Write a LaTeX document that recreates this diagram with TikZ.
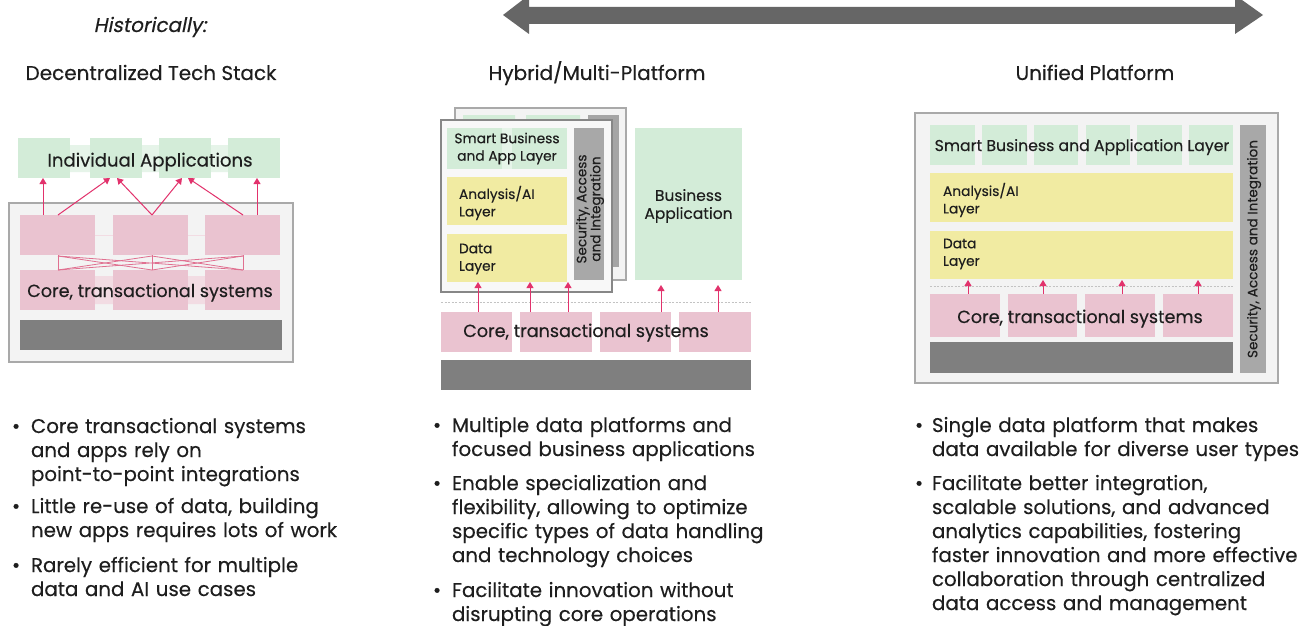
\documentclass[tikz,border=0pt]{standalone}
\usepackage{fontspec}
\setmainfont{Poppins}[FakeBold=0.3]
\newfontfamily\histfont{Poppins}[FakeSlant=0.2,FakeBold=0.3]
\usetikzlibrary{arrows.meta}
\definecolor{appgreen}{HTML}{D3ECD8}
\definecolor{appgreenl}{HTML}{E6F4E9}
\definecolor{corepink}{HTML}{EAC3D0}
\definecolor{corepinkl}{HTML}{F2DCE3}
\definecolor{layeryel}{HTML}{F1EBA2}
\definecolor{darkbar}{HTML}{7F7F7F}
\definecolor{secgray}{HTML}{A8A8A8}
\definecolor{panelbg}{HTML}{F3F3F3}
\definecolor{panelbd}{HTML}{A9A9A9}
\definecolor{arrred}{HTML}{E2326C}
\definecolor{linkred}{HTML}{E07090}
\definecolor{txt}{HTML}{1E1E1E}
\definecolor{bigarrow}{HTML}{666666}
\newcommand{\fs}[2]{\fontsize{#1}{#2}\selectfont}
\begin{document}
\begin{tikzpicture}[x=1pt,y=-1pt,
  blk/.style={inner sep=0,outer sep=0,draw=none,anchor=north west},
  panel/.style={fill=panelbg,draw=panelbd,line width=1.2},
  arr/.style={draw=arrred,line width=1,-{Triangle[width=7,length=6]}},
  link/.style={draw=linkred,line width=0.8},
  lbl/.style={text=txt,inner sep=0,outer sep=0},
  head/.style={lbl,anchor=base,font=\fs{20}{24}},
  corel/.style={lbl,anchor=base,font=\fs{17.6}{20}},
  small/.style={lbl,font=\fs{13.8}{17.5}},
  bul/.style={lbl,anchor=base west,font=\fs{19.8}{24}},
  btxt/.style={lbl,anchor=base west,font=\fs{19.8}{24},text width=400,align=left},
]
\useasboundingbox (0,0) rectangle (1304,626);
\fill[white] (0,0) rectangle (1304,626);

% top double arrow
\fill[bigarrow] (503,15) -- (529,-5) -- (529,7) -- (1235,7) -- (1235,-5) -- (1263,15)
  -- (1235,34) -- (1235,24) -- (529,24) -- (529,34) -- cycle;

% headings
\node[lbl,anchor=base,font=\fs{20}{24}\histfont] (hist) at (150,32) {Historically:};
\node[head] (h1) at (151,80) {Decentralized Tech Stack};
\node[head] (h2) at (597,80) {Hybrid/Multi-Platform};
\node[head] (h3) at (1095,80) {Unified Platform};

% ================= Panel 1
\draw[panel] (9,203) rectangle (293,362);
\fill[appgreenl] (70,145) rectangle (90,172) (142,145) rectangle (159,172) (211,145) rectangle (228,172);
\node[blk,fill=appgreen,minimum width=52,minimum height=40] (g1) at (18,138) {};
\node[blk,fill=appgreen,minimum width=52,minimum height=40] (g2) at (90,138) {};
\node[blk,fill=appgreen,minimum width=52,minimum height=40] (g3) at (159,138) {};
\node[blk,fill=appgreen,minimum width=52,minimum height=40] (g4) at (228,138) {};
\node[lbl,anchor=base,font=\fs{18.1}{22}] (indapp) at (150,166.5) {Individual Applications};

\node[blk,fill=corepink,minimum width=75,minimum height=40] (a1) at (20,215) {};
\node[blk,fill=corepink,minimum width=75,minimum height=40] (a2) at (113,215) {};
\node[blk,fill=corepink,minimum width=75,minimum height=40] (a3) at (205,215) {};
\draw[draw=corepinkl,line width=1] (a1.east) -- (a2.west) (a2.east) -- (a3.west);

\fill[corepinkl] (95,276) rectangle (113,304) (188,276) rectangle (205,304);
\node[blk,fill=corepink,minimum width=75,minimum height=40] (b1) at (20,270) {};
\node[blk,fill=corepink,minimum width=75,minimum height=40] (b2) at (113,270) {};
\node[blk,fill=corepink,minimum width=75,minimum height=40] (b3) at (205,270) {};
\node[corel] (core1) at (150,297) {Core, transactional systems};
\node[blk,fill=darkbar,minimum width=262,minimum height=30] (bar1) at (20,320) {};

% point-to-point links
\draw[link] (58,255) -- (58,270) (152,255) -- (152,270) (243,255) -- (243,270);
\draw[link] (58,256) -- (243,270) (58,270) -- (243,256);
\draw[link] (58,270) -- (152,256) (152,256) -- (243,270);
\draw[link] (58,256) -- (152,270) (152,270) -- (243,256);

% arrows up
\draw[arr] (43,0 |- a1.north) -- (43,0 |- g1.south);
\draw[arr] (58,0 |- a1.north) -- (110,0 |- g2.south);
\draw[arr] (152,0 |- a2.north) -- (117,0 |- g2.south);
\draw[arr] (152,0 |- a2.north) -- (182,0 |- g3.south);
\draw[arr] (243,0 |- a3.north) -- (188,0 |- g3.south);
\draw[arr] (257,0 |- a3.north) -- (257,0 |- g4.south);

% ================= Panel 2
% back frame
\draw[fill=panelbg,draw=panelbd,line width=1.2] (455,108) rectangle (626,280);
\fill[appgreen] (463,115) rectangle (515,125) (526,115) rectangle (580,125);
\fill[darkbar!70] (588,115) rectangle (619,267);
% front frame
\draw[fill=white!40!panelbg,draw=panelbd!80!black,line width=1.2] (441,120) rectangle (612,292);
\node[blk,fill=appgreen,minimum width=55,minimum height=41] (s1) at (447,128) {};
\node[blk,fill=appgreen,minimum width=55,minimum height=41] (s2) at (512,128) {};
\fill[appgreenl] (502,128) rectangle (512,169);
\node[small,align=center] (smart2) at (507,148.5) {Smart Business\\and App Layer};
\node[blk,fill=layeryel,minimum width=120,minimum height=48] (ai2) at (447,177) {};
\node[small,align=left,anchor=west] (ai2t) at (459,203) {Analysis/AI\\Layer};
\node[blk,fill=layeryel,minimum width=120,minimum height=48] (dl2) at (447,234) {};
\node[small,align=left,anchor=west] (dl2t) at (459,259) {Data\\Layer};
\node[blk,fill=secgray,minimum width=30,minimum height=152] (sec2) at (574,128) {};
\node[lbl,font=\fs{13.6}{14},align=center,rotate=90] (sec2t) at (590,209) {Security, Access\\and Integration};
\node[blk,fill=appgreen,minimum width=107,minimum height=152] (ba) at (635,128) {};
\node[lbl,font=\fs{15.5}{18},align=center] (bat) at (688.5,206) {Business\\Application};

\draw[draw=panelbd!70,dashed,dash pattern=on 2 off 1.5,line width=0.8] (441,302) -- (751,302);

\node[blk,fill=corepink,minimum width=71,minimum height=40] (c1) at (441,312) {};
\node[blk,fill=corepink,minimum width=72,minimum height=40] (c2) at (520,312) {};
\node[blk,fill=corepink,minimum width=71,minimum height=40] (c3) at (600,312) {};
\node[blk,fill=corepink,minimum width=72,minimum height=40] (c4) at (679,312) {};
\node[corel] (core2) at (586,337) {Core, transactional systems};
\node[blk,fill=darkbar,minimum width=310,minimum height=30] (bar2) at (441,360) {};

\draw[arr] (478,0 |- c1.north) -- (478,0 |- dl2.south);
\draw[arr] (530,0 |- c2.north) -- (530,0 |- dl2.south);
\draw[arr] (568,0 |- c2.north) -- (568,0 |- dl2.south);
\draw[arr] (661,0 |- c3.north) -- (661,285);
\draw[arr] (718,0 |- c4.north) -- (718,285);

% ================= Panel 3
\draw[panel] (915,113) rectangle (1278,383);
\foreach \xa/\xb [count=\i] in {930/975,982/1027,1034/1078,1086/1130,1137/1182,1189/1233}
  \node[blk,fill=appgreen,minimum width=\xb-\xa,minimum height=40] (u\i) at (\xa,125) {};
\node[lbl,anchor=base,font=\fs{15.7}{18}] (smart3) at (1082,151) {Smart Business and Application Layer};
\node[blk,fill=layeryel,minimum width=303,minimum height=49] (ai3) at (930,173) {};
\node[small,align=left,anchor=west] (ai3t) at (943,200) {Analysis/AI\\Layer};
\node[blk,fill=layeryel,minimum width=303,minimum height=48] (dl3) at (930,231) {};
\node[small,align=left,anchor=west] (dl3t) at (943,254) {Data\\Layer};
\draw[draw=panelbd!70,dashed,dash pattern=on 2 off 1.5,line width=0.8] (930,286) -- (1233,286);
\node[blk,fill=corepink,minimum width=70,minimum height=43] (k1) at (930,294) {};
\node[blk,fill=corepink,minimum width=69,minimum height=43] (k2) at (1008,294) {};
\node[blk,fill=corepink,minimum width=70,minimum height=43] (k3) at (1085,294) {};
\node[blk,fill=corepink,minimum width=70,minimum height=43] (k4) at (1163,294) {};
\node[corel] (core3) at (1080,323) {Core, transactional systems};
\node[blk,fill=darkbar,minimum width=303,minimum height=31] (bar3) at (930,342) {};
\node[blk,fill=secgray,minimum width=26,minimum height=248] (sec3) at (1240,125) {};
\node[lbl,font=\fs{13.6}{16},rotate=90] (sec3t) at (1254,249) {Security, Access and Integration};

\draw[arr] (968,0 |- k1.north) -- (968,280);
\draw[arr] (1043,0 |- k2.north) -- (1043,280);
\draw[arr] (1122,0 |- k3.north) -- (1122,280);
\draw[arr] (1198,0 |- k4.north) -- (1198,280);

% ================= Bullets
\node[bul] (p1b1) at (12,433) {•};
\node[btxt] (p1t1) at (31,433) {Core transactional systems\\and apps rely on\\point-to-point integrations};
\node[bul] (p1b2) at (12,513) {•};
\node[btxt] (p1t2) at (31,513) {Little re-use of data, building\\new apps requires lots of work};
\node[bul] (p1b3) at (12,572) {•};
\node[btxt] (p1t3) at (31,572) {Rarely efficient for multiple\\data and AI use cases};

\node[bul] (p2b1) at (433,432) {•};
\node[btxt] (p2t1) at (452,432) {Multiple data platforms and\\focused business applications};
\node[bul] (p2b2) at (433,490) {•};
\node[btxt] (p2t2) at (452,490) {Enable specialization and\\flexibility, allowing to optimize\\specific types of data handling\\and technology choices};
\node[bul] (p2b3) at (433,597) {•};
\node[btxt] (p2t3) at (452,597) {Facilitate innovation without\\disrupting core operations};

\node[bul] (p3b1) at (915,432) {•};
\node[btxt] (p3t1) at (932,432) {Single data platform that makes\\data available for diverse user types};
\node[bul] (p3b2) at (915,490) {•};
\node[btxt] (p3t2) at (932,490) {Facilitate better integration,\\scalable solutions, and advanced\\analytics capabilities, fostering\\faster innovation and more effective\\collaboration through centralized\\data access and management};
\end{tikzpicture}
\end{document}
